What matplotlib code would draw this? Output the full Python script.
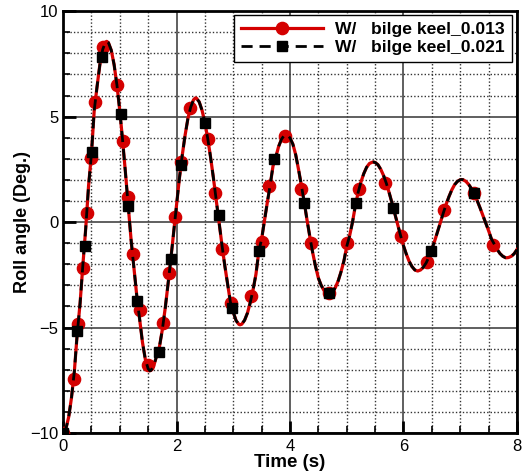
import matplotlib
matplotlib.use('agg')
import matplotlib.pyplot as plt
from matplotlib.ticker import MultipleLocator

plt.rcParams['font.family'] = ['Liberation Sans', 'DejaVu Sans']

# curve (both cases sit on top of each other)
time_s = [0.00, 0.05, 0.10, 0.15, 0.20, 0.25, 0.30, 0.35, 0.40, 0.45,
          0.50, 0.55, 0.60, 0.65, 0.70, 0.75, 0.77, 0.80, 0.85, 0.90,
          0.95, 1.00, 1.05, 1.10, 1.15, 1.20, 1.25, 1.30, 1.35, 1.40,
          1.45, 1.50, 1.53, 1.55, 1.60, 1.65, 1.70, 1.75, 1.80, 1.85,
          1.90, 1.95, 2.00, 2.05, 2.10, 2.15, 2.20, 2.25, 2.30, 2.33,
          2.35, 2.40, 2.45, 2.50, 2.55, 2.60, 2.65, 2.70, 2.75, 2.80,
          2.85, 2.90, 2.95, 3.00, 3.05, 3.10, 3.12, 3.15, 3.20, 3.25,
          3.30, 3.35, 3.40, 3.45, 3.50, 3.55, 3.60, 3.65, 3.70, 3.75,
          3.80, 3.85, 3.90, 3.93, 3.95, 4.00, 4.05, 4.10, 4.15, 4.20,
          4.25, 4.30, 4.35, 4.40, 4.45, 4.50, 4.55, 4.60, 4.65, 4.69,
          4.75, 4.80, 4.85, 4.90, 4.95, 5.00, 5.05, 5.10, 5.15, 5.20,
          5.25, 5.30, 5.35, 5.40, 5.45, 5.47, 5.50, 5.55, 5.60, 5.65,
          5.70, 5.75, 5.80, 5.85, 5.90, 5.95, 6.00, 6.05, 6.10, 6.15,
          6.20, 6.25, 6.30, 6.35, 6.40, 6.45, 6.50, 6.55, 6.60, 6.65,
          6.70, 6.75, 6.80, 6.85, 6.90, 6.95, 7.00, 7.02, 7.05, 7.10,
          7.15, 7.20, 7.25, 7.30, 7.35, 7.40, 7.45, 7.50, 7.55, 7.60,
          7.65, 7.70, 7.75, 7.80, 7.82, 7.85, 7.90, 7.95, 8.00]
roll_013 = [-10.00, -9.81, -9.24, -8.31, -7.07, -5.30, -3.87, -2.03, -0.30, 1.72,
            3.20, 5.30, 6.43, 7.48, 8.19, 8.54, 8.57, 8.51, 8.15, 7.47,
            6.50, 5.29, 3.88, 2.35, 0.75, -0.86, -2.20, -3.50, -4.60, -5.70,
            -6.50, -6.95, -7.05, -7.03, -6.80, -6.34, -5.90, -5.10, -4.10, -2.95,
            -1.75, -0.45, 0.80, 2.05, 3.15, 4.10, 4.90, 5.45, 5.80, 5.88,
            5.88, 5.70, 5.30, 4.72, 3.97, 3.08, 2.10, 1.05, -0.02, -1.07,
            -2.05, -2.94, -3.80, -4.27, -4.67, -4.85, -4.87, -4.84, -4.65, -4.31,
            -3.81, -3.19, -2.47, -1.40, -0.80, 0.08, 0.93, 1.75, 2.65, 3.09,
            3.59, 3.93, 4.12, 4.15, 4.14, 3.99, 3.70, 3.20, 2.50, 1.75,
            0.95, 0.10, -0.70, -1.45, -2.10, -2.65, -3.00, -3.25, -3.38, -3.40,
            -3.31, -3.10, -2.78, -2.35, -1.84, -1.15, -0.65, -0.02, 0.75, 1.40,
            1.90, 2.30, 2.60, 2.78, 2.84, 2.85, 2.83, 2.72, 2.50, 2.20,
            1.82, 1.37, 0.88, 0.37, -0.15, -0.65, -1.12, -1.52, -1.86, -2.11,
            -2.27, -2.32, -2.27, -2.14, -1.93, -1.64, -1.28, -0.89, -0.46, -0.02,
            0.42, 0.83, 1.20, 1.52, 1.77, 1.93, 2.01, 2.02, 2.01, 1.93,
            1.78, 1.58, 1.31, 1.01, 0.67, 0.31, -0.05, -0.41, -0.80, -1.04,
            -1.29, -1.49, -1.62, -1.69, -1.69, -1.68, -1.62, -1.50, -1.30]
roll_021 = roll_013  # the two runs overlap on the chart

# symbol positions
circ_t = [0.00, 0.19, 0.27, 0.36, 0.42, 0.49, 0.56, 0.71, 0.96, 1.05,
          1.15, 1.24, 1.35, 1.50, 1.76, 1.87, 1.97, 2.08, 2.24, 2.55,
          2.68, 2.80, 2.96, 3.32, 3.50, 3.63, 3.91, 4.20, 4.37, 4.69,
          5.01, 5.22, 5.68, 5.95, 6.41, 6.72, 7.24, 7.58]
circ_y = [-10.0, -7.44, -4.82, -2.16, 0.44, 3.04, 5.69, 8.32, 6.51, 3.83,
          1.20, -1.51, -4.19, -6.76, -4.80, -2.43, 0.25, 2.85, 5.42, 3.96,
          1.36, -1.28, -3.84, -3.50, -0.93, 1.70, 4.10, 1.59, -0.98, -3.37,
          -0.98, 1.59, 1.86, -0.66, -1.91, 0.57, 1.36, -1.09]
sq_t = [0.00, 0.25, 0.38, 0.51, 0.68, 1.02, 1.15, 1.31, 1.70, 1.90,
        2.08, 2.50, 2.74, 2.97, 3.46, 3.72, 4.25, 4.69, 5.17, 5.81,
        6.49, 7.24]
sq_y = [-10.0, -5.15, -1.13, 3.31, 7.82, 5.14, 0.76, -3.72, -6.16, -1.75,
        2.70, 4.71, 0.33, -4.08, -1.37, 3.01, 0.91, -3.34, 0.91, 0.69,
        -1.36, 1.40]

fig = plt.figure(figsize=(5.23, 4.75), dpi=100)
ax = fig.add_axes([0.1205, 0.0884, 0.868, 0.888])

ax.plot(time_s, roll_013, color='#d40000', lw=2.3, zorder=3)
ax.plot(circ_t, circ_y, 'o', color='#d40000', ms=8.8, zorder=4)
ax.plot(time_s, roll_021, color='black', lw=2.0, dashes=(4, 2.5), zorder=5)
ax.plot(sq_t, sq_y, 's', color='black', ms=6.5, zorder=6)

# legend handles: line + one symbol
h1, = ax.plot([], [], color='#d40000', lw=2.3, marker='o', ms=8.8)
h2, = ax.plot([], [], color='black', lw=2.0, dashes=(4, 2.5), marker='s', ms=6.5)
leg = ax.legend([h1, h2], ['W/   bilge keel_0.013', 'W/   bilge keel_0.021'],
                loc='upper right', bbox_to_anchor=(0.989, 0.9905), fancybox=False,
                framealpha=1, edgecolor='black', borderpad=0.4, labelspacing=0.15,
                handlelength=4.7, handletextpad=0.7, borderaxespad=0,
                prop={'weight': 'bold', 'size': 12.6}, markerscale=1.0)
leg.get_frame().set_linewidth(1.0)
leg.set_zorder(10)

ax.set_xlim(0, 8)
ax.set_ylim(-10, 10)
ax.xaxis.set_major_locator(MultipleLocator(2))
ax.xaxis.set_minor_locator(MultipleLocator(0.5))
ax.yaxis.set_major_locator(MultipleLocator(5))
ax.yaxis.set_minor_locator(MultipleLocator(1))

ax.grid(which='major', color='#444444', lw=1.2, ls='-')
ax.grid(which='minor', color='#333333', lw=1.0, ls=(0, (1, 1.5)))
ax.set_axisbelow(True)

for s in ax.spines.values():
    s.set_linewidth(2.0)
ax.tick_params(which='major', direction='in', length=9, width=2, labelsize=12,
               top=False, right=False)
ax.tick_params(which='minor', direction='in', length=5, width=1.2,
               top=False, right=False)
ax.tick_params(axis='x', pad=4)

ax.set_xlabel('Time (s)', fontsize=13.5, fontweight='bold', labelpad=0)
ax.set_ylabel('Roll angle (Deg.)', fontsize=13, fontweight='bold', labelpad=-1)

fig.savefig('out.png', dpi=100)
